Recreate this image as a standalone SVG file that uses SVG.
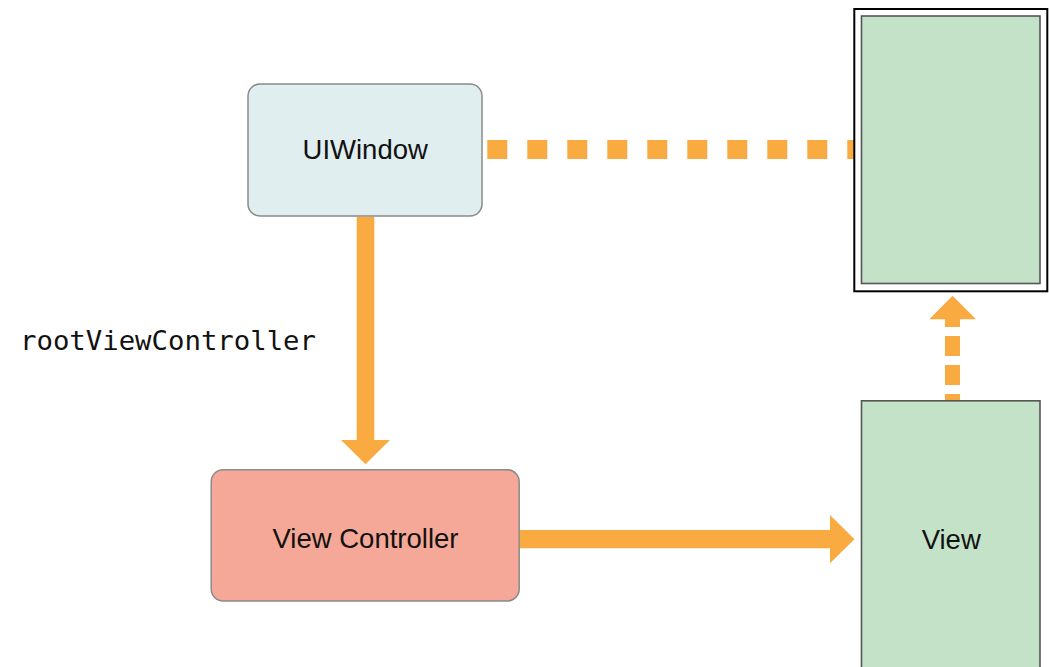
<svg xmlns="http://www.w3.org/2000/svg" width="1049" height="667" viewBox="0 0 1049 667">
<style>
.label{font-family:"Liberation Sans",Arial,Helvetica,sans-serif;font-size:27.5px;fill:#111;text-anchor:middle}
.mono{font-family:"DejaVu Sans Mono","Liberation Mono",monospace;font-size:27px;fill:#111}
.box{stroke:#8a8a8a;stroke-width:1.5}
.orange{fill:#F9AB42}
.oline{stroke:#F9AB42;fill:none}
</style>
<rect width="1049" height="667" fill="#ffffff"/>
<g id="connectors">
<line class="oline" x1="487.3" y1="149.5" x2="856" y2="149.5" stroke-width="19" stroke-dasharray="20 20"/>
<line class="oline" x1="365.5" y1="216.7" x2="365.5" y2="441" stroke-width="17.6"/>
<polygon class="orange" points="341,440 390,440 365.5,464.3"/>
<line class="oline" x1="520" y1="539.2" x2="831" y2="539.2" stroke-width="18.3"/>
<polygon class="orange" points="830,515 830,563.3 854.5,539.2"/>
<line class="oline" x1="952.5" y1="319" x2="952.5" y2="401" stroke-width="15" stroke-dasharray="20 9" stroke-dashoffset="12"/>
<polygon class="orange" points="929.3,319.3 976,319.3 952.6,295.7"/>
</g>
<g id="uiwindow">
<rect class="box" x="248" y="84" width="234" height="132" rx="12" fill="#E0EEEF"/>
<text class="label" x="365.2" y="159.3">UIWindow</text>
</g>
<g id="root-label">
<text class="mono" x="20" y="350" textLength="296" lengthAdjust="spacingAndGlyphs">rootViewController</text>
</g>
<g id="viewcontroller">
<rect class="box" x="211.2" y="469.7" width="308" height="131.3" rx="12" fill="#F5A897"/>
<text class="label" x="365.5" y="548.3">View Controller</text>
</g>
<g id="window-screen">
<rect x="854.3" y="9" width="193" height="282.3" fill="#ffffff" stroke="#000000" stroke-width="2"/>
<rect x="861.5" y="16" width="178.5" height="267.5" fill="#C4E2C8" stroke="#555555" stroke-width="1.6"/>
</g>
<g id="view">
<rect x="861.5" y="400.8" width="178.5" height="300" fill="#C4E2C8" stroke="#555555" stroke-width="1.6"/>
<text class="label" x="951.2" y="549">View</text>
</g>
</svg>
